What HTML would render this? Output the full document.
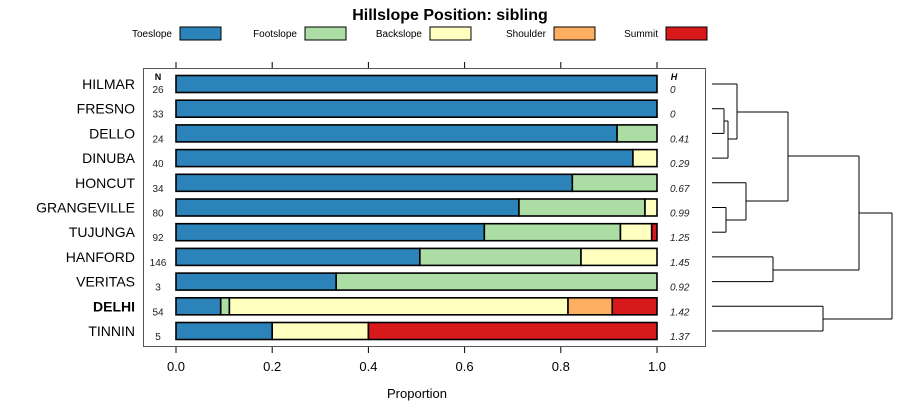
<!DOCTYPE html>
<html><head><meta charset="utf-8"><style>
body{margin:0;background:#fff;}
svg{display:block;font-family:"Liberation Sans",sans-serif;}
</style></head><body>
<svg id="chart" width="900" height="420"></svg>
<script>
const categories=["HILMAR","FRESNO","DELLO","DINUBA","HONCUT","GRANGEVILLE","TUJUNGA","HANFORD","VERITAS","DELHI","TINNIN"];
const classes=["Toeslope","Footslope","Backslope","Shoulder","Summit"];
const colors=["#2b83ba","#abdda4","#ffffbf","#fdae61","#d7191c"];
const toeslope=[1,1,0.917,0.95,0.824,0.713,0.641,0.507,0.333,0.093,0.2];
const footslope=[0,0,0.083,0,0.176,0.262,0.283,0.335,0.667,0.018,0];
const backslope=[0,0,0,0.05,0,0.025,0.065,0.158,0,0.704,0.2];
const shoulder=[0,0,0,0,0,0,0,0,0,0.092,0];
const summit=[0,0,0,0,0,0,0.011,0,0,0.093,0.6];
const nValues=["26","33","24","40","34","80","92","146","3","54","5"];
const hValues=["0","0","0.41","0.29","0.67","0.99","1.25","1.45","0.92","1.42","1.37"];
const xTicks=[0,0.2,0.4,0.6,0.8,1.0];
const tickLabels=["0.0","0.2","0.4","0.6","0.8","1.0"];
const series=[toeslope,footslope,backslope,shoulder,summit];

const NS="http://www.w3.org/2000/svg";
const svg=document.getElementById('chart');
function mk(t,a,txt){const e=document.createElementNS(NS,t);for(const k in a)e.setAttribute(k,a[k]);if(txt!==undefined)e.textContent=txt;svg.appendChild(e);return e;}
const x=v=>176+v*481;
const y=i=>84+i*24.7;

let t=mk('text',{x:450,y:20,'text-anchor':'middle','font-size':16,'font-weight':'bold'},'Hillslope Position: sibling');



const legX=[180,305,430,554,666];
classes.forEach((c,k)=>{
  const r=mk('rect',{x:legX[k],y:27,width:41,height:13,fill:colors[k],stroke:'#000','stroke-width':1});
  
  
  const l=mk('text',{x:legX[k]-8,y:37,'text-anchor':'end','font-size':10},c);
  
  
});

const box=mk('rect',{x:143.5,y:68.5,width:562,height:278,fill:'none',stroke:'#555','stroke-width':1});



xTicks.forEach((v,k)=>{
  const a=mk('line',{x1:x(v),x2:x(v),y1:62,y2:68,stroke:'#000'});
  
  
  const b=mk('line',{x1:x(v),x2:x(v),y1:347,y2:353,stroke:'#000'});
  
  
  const l=mk('text',{x:x(v),y:371,'text-anchor':'middle','font-size':13},tickLabels[k]);
  
  
});
t=mk('text',{x:417,y:398,'text-anchor':'middle','font-size':13},'Proportion');



t=mk('text',{x:158,y:80,'text-anchor':'middle','font-size':9,'font-weight':'bold'},'N');


t=mk('text',{x:674,y:80,'text-anchor':'middle','font-size':9,'font-weight':'bold','font-style':'italic'},'H');



categories.forEach((c,i)=>{
  const cy=y(i);
  const lab=mk('text',{x:135,y:cy+5,'text-anchor':'end','font-size':14,'font-weight':c==='DELHI'?'bold':'normal'},c);
  
  
  let cum=0;
  series.forEach((s,k)=>{
    const v=s[i]; if(v<=0) return;
    const r=mk('rect',{x:x(cum),y:cy-8.5,width:x(cum+v)-x(cum),height:17,fill:colors[k],stroke:'#000','stroke-width':1.6});
    
    
    cum+=v;
  });
  const n=mk('text',{x:158,y:cy+9,'text-anchor':'middle','font-size':10,fill:'#222'},nValues[i]);
  
  
  const h=mk('text',{x:670,y:cy+9,'font-size':10,'font-style':'italic',fill:'#222'},hValues[i]);
  
  
});

// dendrogram
const segs=[
 [712,y(0),737,y(0)],[712,y(1),724,y(1)],[712,y(2),724,y(2)],[724,y(1),724,y(2)],
 [724,121,728,121],[712,y(3),728,y(3)],[728,121,728,y(3)],[728,139,737,139],[737,y(0),737,139],
 [737,112,788,112],
 [712,y(5),726,y(5)],[712,y(6),726,y(6)],[726,y(5),726,y(6)],[726,220,746,220],[712,y(4),746,y(4)],[746,y(4),746,220],
 [746,201,788,201],[788,112,788,201],[788,156,859,156],
 [712,y(7),773,y(7)],[712,y(8),773,y(8)],[773,y(7),773,y(8)],[773,270,859,270],[859,156,859,270],
 [859,213,892,213],
 [712,y(9),823,y(9)],[712,y(10),823,y(10)],[823,y(9),823,y(10)],[823,319,892,319],[892,213,892,319]
];
segs.forEach(s=>{
  const l=mk('line',{x1:s[0],y1:s[1],x2:s[2],y2:s[3],stroke:'#000','stroke-width':1});
  
  
});
</script>
</body></html>
